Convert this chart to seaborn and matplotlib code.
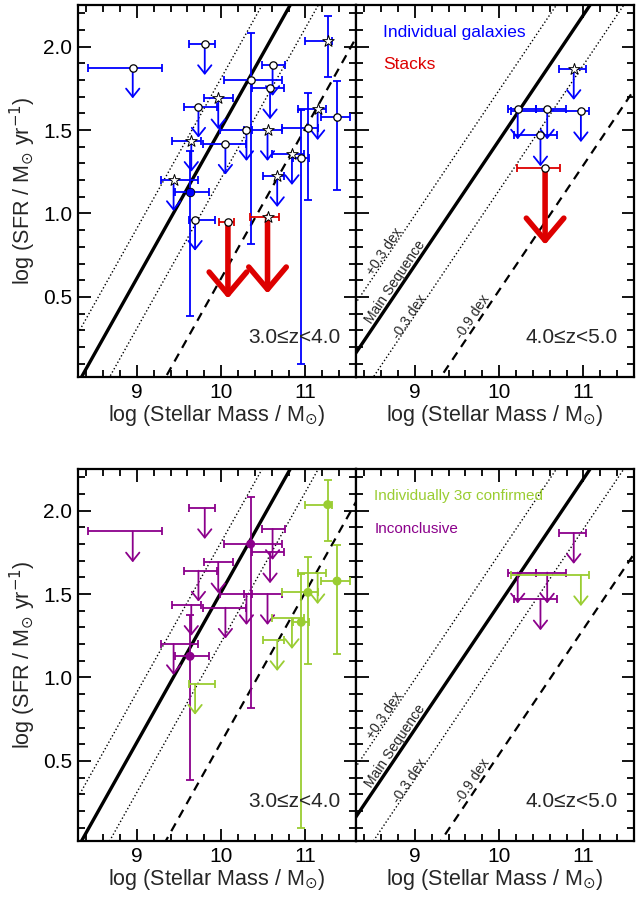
import numpy as np
import pandas as pd
import seaborn as sns
import matplotlib.pyplot as plt
from matplotlib.ticker import MultipleLocator

# --- 3.0 <= z < 4.0, individual galaxies ---
z3_mass = [8.95, 9.805, 10.35, 10.61, 10.58, 9.965, 9.73, 9.645, 10.05, 10.30, 10.55,
           11.03, 11.145, 11.375, 11.265, 10.84, 10.665, 9.435, 9.63, 9.69, 10.95]
z3_mass_lo = [0.53, 0.19, 0.32, 0.13, 0.22, 0.17, 0.17, 0.225, 0.27, 0.31, 0.28,
              0.31, 0.235, 0.195, 0.27, 0.24, 0.17, 0.15, 0.18, 0.07, 0.10]
z3_mass_hi = [0.35, 0.12, 0.37, 0.15, 0.16, 0.17, 0.22, 0.12, 0.24, 0.07, 0.17,
              0.12, 0.10, 0.155, 0.05, 0.14, 0.08, 0.295, 0.225, 0.24, 0.09]
z3_sfr = [1.875, 2.015, 1.80, 1.89, 1.75, 1.69, 1.64, 1.435, 1.418, 1.50, 1.50,
          1.51, 1.625, 1.578, 2.036, 1.356, 1.224, 1.20, 1.127, 0.962, 1.331]
z3_sfr_lo = [0, 0, 0.98, 0, 0, 0, 0, 0, 0, 0, 0,
             0.43, 0, 0.44, 0.22, 0, 0, 0, 0.74, 0, 1.235]
z3_sfr_hi = [0, 0, 0.28, 0, 0, 0, 0, 0, 0, 0, 0,
             0.21, 0, 0.217, 0.145, 0, 0, 0, 0.25, 0, 0.29]
z3_limit = [1, 1, 0, 1, 1, 1, 1, 1, 1, 1, 1,
            0, 1, 0, 0, 1, 1, 1, 0, 1, 0]
z3_shape = ['circle', 'circle', 'circle', 'circle', 'circle', 'star', 'circle', 'star',
            'circle', 'circle', 'star', 'circle', 'star', 'circle', 'star', 'star', 'star',
            'star', 'filled', 'circle', 'circle']
z3_confirmed = [0, 0, 0, 0, 0, 0, 0, 0, 0, 0, 0,
                1, 1, 1, 1, 1, 1, 0, 0, 1, 1]

# --- 4.0 <= z < 5.0, individual galaxies ---
z4_mass = [10.885, 10.22, 10.57, 10.97, 10.49]
z4_mass_lo = [0.175, 0.12, 0.13, 0.83, 0.32]
z4_mass_hi = [0.145, 0.22, 0.22, 0.10, 0.20]
z4_sfr = [1.866, 1.629, 1.629, 1.613, 1.468]
z4_sfr_lo = [0, 0, 0, 0, 0]
z4_sfr_hi = [0, 0, 0, 0, 0]
z4_limit = [1, 1, 1, 1, 1]
z4_shape = ['star', 'circle', 'circle', 'circle', 'circle']
z4_confirmed = [0, 0, 0, 1, 0]

# --- stacks (upper limits) ---
z3_stack_mass = [10.08, 10.55]
z3_stack_mass_lo = [0.105, 0.21]
z3_stack_mass_hi = [0.07, 0.14]
z3_stack_sfr = [0.95, 0.98]
z3_stack_shape = ['circle', 'star']
z4_stack_mass = [10.545]
z4_stack_mass_lo = [0.33]
z4_stack_mass_hi = [0.18]
z4_stack_sfr = [1.273]
z4_stack_shape = ['circle']

# main sequence: slope and value at log M = 10, plus offsets
ms_slope = [0.90, 0.75]
ms_norm = [1.512, 1.44]
ms_offsets = [0.3, -0.3, -0.9]
z_labels = ['3.0≤z<4.0', '4.0≤z<5.0']

BLUE = '#0000FF'
RED = '#DD0000'
GREEN = '#9ACD32'
PURPLE = '#8B008B'


def make_frame(mass, mlo, mhi, sfr, slo, shi, limit, shape, confirmed):
    return pd.DataFrame({'mass': mass, 'mass_lo': mlo, 'mass_hi': mhi, 'sfr': sfr,
                         'sfr_lo': slo, 'sfr_hi': shi, 'limit': limit, 'shape': shape,
                         'confirmed': confirmed})


def draw_arrow(ax, x, y, length, color, lw, hl, hw):
    ax.annotate('', xy=(x, y - length), xytext=(x, y),
                arrowprops=dict(arrowstyle=f'->,head_length={hl},head_width={hw}',
                                color=color, lw=lw, shrinkA=0, shrinkB=0,
                                mutation_scale=10), zorder=3)


def draw_relations(ax, slope, norm, labels=False):
    grid = np.linspace(8.0, 12.0, 50)
    ms = norm + slope * (grid - 10.0)
    sns.lineplot(x=grid, y=ms, ax=ax, color='black', lw=2.4, zorder=2)
    sns.lineplot(x=grid, y=ms + ms_offsets[0], ax=ax, color='black', lw=1.0, ls=':', zorder=2)
    sns.lineplot(x=grid, y=ms + ms_offsets[1], ax=ax, color='black', lw=1.0, ls=':', zorder=2)
    sns.lineplot(x=grid, y=ms + ms_offsets[2], ax=ax, color='black', lw=1.6, ls=(0, (4, 3)), zorder=2)
    if labels:
        ang = ax.transData.transform_angles(np.array([np.degrees(np.arctan(slope))]),
                                            np.array([[9.0, 1.0]]))[0]
        for txt, x, y in [('+0.3 dex', 8.64, 0.77), ('Main Sequence', 8.76, 0.59),
                          ('-0.3 dex', 8.94, 0.38), ('-0.9 dex', 9.69, 0.38)]:
            ax.text(x, y, txt, rotation=ang, rotation_mode='anchor', ha='center',
                    va='center', fontsize=10)


def draw_points(ax, df, colors, top):
    for _, r in df.iterrows():
        c = colors[r['confirmed']] if not top else BLUE
        yerr = None if r['limit'] else [[r['sfr_lo']], [r['sfr_hi']]]
        ax.errorbar([r['mass']], [r['sfr']], xerr=[[r['mass_lo']], [r['mass_hi']]],
                    yerr=yerr, fmt='none', ecolor=c, elinewidth=1.3, capsize=2.6,
                    capthick=1.3, zorder=3)
        if r['limit']:
            draw_arrow(ax, r['mass'], r['sfr'], 0.185, c, 1.3, 0.6, 0.48)
    if top:
        sub = df[df['shape'] == 'circle']
        sns.scatterplot(data=sub, x='mass', y='sfr', ax=ax, marker='o', s=28,
                        color='white', edgecolor='black', linewidth=0.9, zorder=5)
        sub = df[df['shape'] == 'star']
        sns.scatterplot(data=sub, x='mass', y='sfr', ax=ax, marker='*', s=75,
                        color='white', edgecolor='black', linewidth=0.7, zorder=5)
        sub = df[df['shape'] == 'filled']
        sns.scatterplot(data=sub, x='mass', y='sfr', ax=ax, marker='o', s=38,
                        color=BLUE, edgecolor='black', linewidth=0.6, zorder=5)
    else:
        sub = df[df['limit'] == 0]
        sns.scatterplot(data=sub, x='mass', y='sfr', ax=ax, marker='o', s=42,
                        hue='confirmed', palette=colors, edgecolor='none',
                        legend=False, zorder=5)


def draw_stacks(ax, mass, mlo, mhi, sfr, shape):
    for m, lo, hi, s in zip(mass, mlo, mhi, sfr):
        ax.errorbar([m], [s], xerr=[[lo], [hi]], fmt='none', ecolor=RED,
                    elinewidth=1.3, capsize=2.6, capthick=1.3, zorder=3)
        draw_arrow(ax, m, s, 0.46, RED, 4.0, 1.6, 1.35)
    df = pd.DataFrame({'mass': mass, 'sfr': sfr, 'shape': shape})
    sns.scatterplot(data=df[df['shape'] == 'circle'], x='mass', y='sfr', ax=ax,
                    marker='o', s=28, color='white', edgecolor='black', linewidth=0.9, zorder=5)
    sns.scatterplot(data=df[df['shape'] == 'star'], x='mass', y='sfr', ax=ax,
                    marker='*', s=75, color='white', edgecolor='black', linewidth=0.7, zorder=5)


def style_axis(ax, left_panel):
    ax.set_xlim(8.3, 11.6)
    ax.set_ylim(0.02, 2.25)
    ax.xaxis.set_major_locator(MultipleLocator(1))
    ax.xaxis.set_minor_locator(MultipleLocator(0.2))
    ax.yaxis.set_major_locator(MultipleLocator(0.5))
    ax.yaxis.set_minor_locator(MultipleLocator(0.1))
    ax.tick_params(which='both', direction='in', top=True, right=True, width=1.3,
                   labelsize=15, colors='black')
    ax.tick_params(which='major', length=9, pad=4)
    ax.tick_params(which='minor', length=5)
    for sp in ax.spines.values():
        sp.set_linewidth(1.6)
        sp.set_color('black')
    ax.set_xlabel('log (Stellar Mass / M$_{\\odot}$)', fontsize=15.5, labelpad=1)
    if left_panel:
        ax.set_ylabel('log (SFR / M$_{\\odot}$ yr$^{-1}$)', fontsize=15.5, labelpad=4)
    else:
        ax.set_ylabel('')
        ax.tick_params(labelleft=False)


def main():
    sns.set_style('ticks')
    plt.rcParams['font.family'] = ['Liberation Sans', 'DejaVu Sans']

    fig = plt.figure(figsize=(6.36, 8.98), dpi=100)
    w, h = 0.4371, 0.4143
    ax_tl = fig.add_axes([0.1226, 0.5802, w, h])
    ax_tr = fig.add_axes([0.5597, 0.5802, w, h])
    ax_bl = fig.add_axes([0.1226, 0.0635, w, h])
    ax_br = fig.add_axes([0.5597, 0.0635, w, h])

    z3 = make_frame(z3_mass, z3_mass_lo, z3_mass_hi, z3_sfr, z3_sfr_lo, z3_sfr_hi,
                    z3_limit, z3_shape, z3_confirmed)
    z4 = make_frame(z4_mass, z4_mass_lo, z4_mass_hi, z4_sfr, z4_sfr_lo, z4_sfr_hi,
                    z4_limit, z4_shape, z4_confirmed)
    colors = {0: PURPLE, 1: GREEN}

    for ax, left in [(ax_tl, True), (ax_tr, False), (ax_bl, True), (ax_br, False)]:
        style_axis(ax, left)

    draw_relations(ax_tl, ms_slope[0], ms_norm[0])
    draw_relations(ax_bl, ms_slope[0], ms_norm[0])
    draw_relations(ax_tr, ms_slope[1], ms_norm[1], labels=True)
    draw_relations(ax_br, ms_slope[1], ms_norm[1], labels=True)

    draw_points(ax_tl, z3, colors, top=True)
    draw_stacks(ax_tl, z3_stack_mass, z3_stack_mass_lo, z3_stack_mass_hi, z3_stack_sfr, z3_stack_shape)
    draw_points(ax_tr, z4, colors, top=True)
    draw_stacks(ax_tr, z4_stack_mass, z4_stack_mass_lo, z4_stack_mass_hi, z4_stack_sfr, z4_stack_shape)
    draw_points(ax_bl, z3, colors, top=False)
    draw_points(ax_br, z4, colors, top=False)

    for ax, lab in [(ax_tl, z_labels[0]), (ax_bl, z_labels[0]),
                    (ax_tr, z_labels[1]), (ax_br, z_labels[1])]:
        ax.text(0.943, 0.105, lab, transform=ax.transAxes, ha='right', va='center', fontsize=15)

    ax_tr.text(0.097, 0.927, 'Individual galaxies', color=BLUE, transform=ax_tr.transAxes,
               ha='left', va='center', fontsize=12.5)
    ax_tr.text(0.097, 0.839, 'Stacks', color=RED, transform=ax_tr.transAxes,
               ha='left', va='center', fontsize=12.5)
    ax_br.text(0.066, 0.928, 'Individually 3σ confirmed', color=GREEN, transform=ax_br.transAxes,
               ha='left', va='center', fontsize=11)
    ax_br.text(0.066, 0.839, 'Inconclusive', color=PURPLE, transform=ax_br.transAxes,
               ha='left', va='center', fontsize=11)

    fig.savefig('out.png', dpi=100)


if __name__ == "__main__":
    main()
